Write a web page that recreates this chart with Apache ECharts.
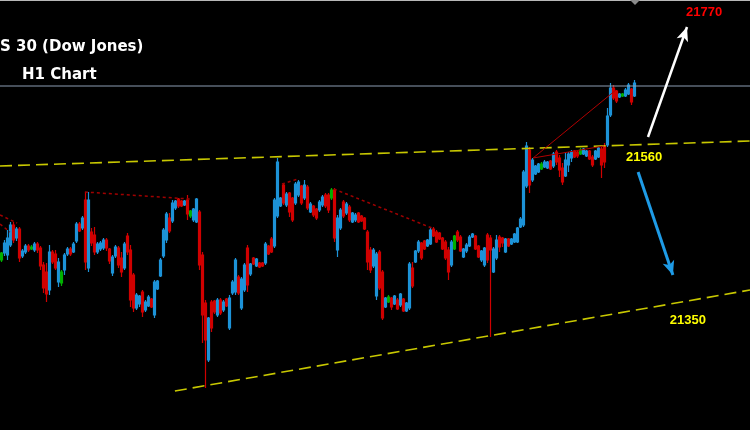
<!DOCTYPE html>
<html>
<head>
<meta charset="utf-8">
<script src="https://cdn.jsdelivr.net/npm/echarts@6/dist/echarts.min.js"></script>
<style>html,body{margin:0;padding:0;background:#000}#c{width:750px;height:430px}</style>
</head>
<body>
<div id="c"></div>
<script>
// H1 bars: [open, close, low, high]
const candles = [
[21395,21405.5,21392,21407],[21405.5,21420.5,21401,21425],[21402.5,21428,21395,21440],[21417.5,21447.5,21414.5,21452],
[21447.5,21425,21420.5,21452],[21428,21441.5,21423.5,21444.5],[21441.5,21398,21392,21444.5],[21401,21408.5,21398,21411.5],
[21407,21416,21404,21419],[21416,21410,21407,21419],[21411.5,21414.5,21410,21417.5],[21410,21419,21407,21422],
[21419,21410,21405.5,21422],[21413,21386,21380,21416],[21387.5,21353,21345.5,21392],[21377,21344,21332,21390.5],
[21350,21407,21342.5,21417.5],[21407,21392,21389,21410],[21404,21383,21380,21410],[21362,21392,21354.5,21398],
[21360.5,21377,21356,21380],[21380,21402.5,21372.5,21405.5],[21404,21411.5,21401,21414.5],[21411.5,21404,21401,21414.5],
[21407,21419,21405.5,21422],[21423.5,21449,21420.5,21452],[21449,21438.5,21437,21452],[21443,21458,21440,21461],
[21485,21392,21380,21497],[21383,21485,21377,21497],[21437,21420.5,21416,21443],[21432.5,21407,21402.5,21444.5],
[21407,21419,21404,21422],[21411.5,21420.5,21408.5,21423.5],[21413,21425,21410,21428],[21425,21413,21408.5,21428],
[21411.5,21393.5,21389,21413],[21375.5,21399.5,21371,21402.5],[21401,21414.5,21398,21417.5],[21413,21387.5,21383,21416],
[21398,21377,21369.5,21407],[21383,21419,21380,21422],[21431,21407,21402.5,21435.5],[21410,21335,21324.5,21417.5],
[21372.5,21323,21317,21375.5],[21323,21342.5,21320,21345.5],[21329,21341,21324.5,21342.5],[21347,21317,21309.5,21350],
[21320,21332,21317,21335],[21326,21339.5,21324.5,21342.5],[21336.5,21324.5,21323,21338],[21312.5,21362,21308,21365],
[21351.5,21363.5,21350,21365],[21371,21395,21369.5,21398],[21401,21440,21398,21443],[21425,21464,21420.5,21467],
[21458,21438.5,21435.5,21465.5],[21453.5,21480.5,21450.5,21485],[21473,21483.5,21470,21485],[21486.5,21476,21473,21488],
[21483.5,21476,21474.5,21485],[21477.5,21483.5,21476,21485],[21485,21464,21455,21492.5],[21461,21468.5,21458,21470],
[21455,21471.5,21452,21473],[21452,21486.5,21450.5,21488],[21467,21387.5,21380,21470],[21402.5,21312.5,21270.5,21407],
[21330.5,21275,21203,21335],[21245,21308,21242,21309.5],[21332,21293,21287,21335],[21333.5,21317,21314,21335],
[21312.5,21335,21309.5,21338],[21335,21315.5,21312.5,21338],[21320,21332,21317,21335],[21336.5,21326,21324.5,21338],
[21293,21338,21290,21342.5],[21345.5,21362,21342.5,21365],[21347,21395,21342.5,21398],[21369.5,21345.5,21342.5,21372.5],
[21323,21366.5,21320,21369.5],[21350,21387.5,21347,21390.5],[21413,21357.5,21347,21417.5],[21374,21389,21371,21390.5],
[21398,21389,21387.5,21399.5],[21386,21396.5,21384.5,21398],[21390.5,21384.5,21383,21392],[21390.5,21386,21384.5,21392],
[21390.5,21419,21387.5,21422],[21416,21404,21402.5,21417.5],[21426.5,21407,21405.5,21429.5],[21416,21485,21413,21488],
[21461,21542,21458,21548],[21476,21488,21474.5,21489.5],[21507.5,21480.5,21477.5,21510.5],[21477.5,21494,21474.5,21497],
[21495.5,21467,21459.5,21497],[21488,21455,21452,21489.5],[21480.5,21509,21477.5,21512],[21492.5,21512,21489.5,21515],
[21506,21480.5,21477.5,21507.5],[21488,21507.5,21485,21515],[21504.5,21473,21470,21507.5],[21467,21479,21465.5,21482],
[21476,21462.5,21459.5,21477.5],[21471.5,21458,21455,21473],[21470,21482,21467,21485],[21477.5,21489.5,21474.5,21492.5],
[21492.5,21476,21473,21495.5],[21492.5,21470,21465.5,21495.5],[21488,21500,21485,21503],[21500,21428,21422,21503],
[21410,21458,21399.5,21462.5],[21443,21470,21440,21473],[21482,21461,21458,21485],[21465.5,21479,21462.5,21482],
[21474.5,21455,21452,21477.5],[21452,21465.5,21450.5,21467],[21455,21462.5,21452,21465.5],[21465.5,21452,21450.5,21467],
[21461,21453.5,21452,21462.5],[21458,21441.5,21440,21459.5],[21437,21392,21380,21440],[21410,21380,21375.5,21414.5],
[21386,21410,21383,21413],[21341,21404,21335,21407],[21407,21353,21350,21410],[21377,21308,21305,21380],
[21324.5,21338,21323,21339.5],[21332,21339.5,21330.5,21342.5],[21338,21324.5,21320,21339.5],[21329,21341,21327.5,21342.5],
[21335,21321.5,21320,21338],[21327.5,21344,21324.5,21345.5],[21336.5,21318.5,21317,21338],[21318.5,21330.5,21317,21332],
[21323,21389,21320,21392],[21383,21356,21353,21392],[21392,21408.5,21390.5,21410],[21408.5,21422,21405.5,21425],
[21420.5,21398,21395,21422],[21423.5,21411.5,21410,21425],[21416,21425,21414.5,21426.5],[21419,21440,21417.5,21444.5],
[21441.5,21431,21429.5,21444.5],[21437,21422,21420.5,21440],[21435.5,21426.5,21425,21437],[21428,21411.5,21410,21429.5],
[21422,21398,21395,21425],[21410,21377,21365,21414.5],[21387.5,21422,21384.5,21425],[21411.5,21431,21410,21432.5],
[21437,21425,21422,21440],[21429.5,21408.5,21407,21432.5],[21399.5,21411.5,21398,21413],[21408.5,21417.5,21405.5,21420.5],
[21416,21429.5,21414.5,21432.5],[21429.5,21434,21428,21435.5],[21431,21411.5,21410,21432.5],[21416,21399.5,21398,21417.5],
[21395,21408.5,21392,21410],[21387.5,21413,21384.5,21414.5],[21432.5,21395,21390.5,21435.5],[21428,21410,21279.5,21432.5],
[21377,21411.5,21375.5,21414.5],[21398,21425,21395,21432.5],[21429.5,21414.5,21407,21432.5],[21428,21420.5,21414.5,21429.5],
[21407,21426.5,21405.5,21428],[21426.5,21416,21414.5,21428],[21419,21426.5,21417.5,21428],[21422,21434,21420.5,21435.5],
[21422,21443,21420.5,21444.5],[21444.5,21456.5,21443,21459.5],[21447.5,21527,21444.5,21530],[21506,21566,21503,21572],
[21560,21507.5,21495.5,21564.5],[21515,21545,21512,21548],[21524,21536,21522.5,21537.5],[21527,21539,21525.5,21540.5],
[21531.5,21539,21530,21542],[21534.5,21542,21533,21545],[21533,21542,21531.5,21543.5],[21543.5,21531.5,21530,21545],
[21536,21554,21533,21557],[21557,21542,21537.5,21560],[21548,21530,21519.5,21552.5],[21533,21512,21507.5,21540.5],
[21521,21545,21519.5,21557],[21537.5,21554,21527,21557],[21548,21557,21542,21560],[21558.5,21549.5,21548,21560],
[21557,21551,21548,21560],[21554,21560,21552.5,21563],[21554,21561.5,21552.5,21563],[21551,21558.5,21549.5,21560],
[21558.5,21546.5,21545,21560],[21549.5,21537.5,21534.5,21552.5],[21546.5,21558.5,21545,21560],[21549.5,21563,21548,21564.5],
[21561.5,21537.5,21518,21564.5],[21566,21542,21533,21570.5],[21567.5,21611,21564.5,21623],[21612.5,21653,21609.5,21660.5],
[21653,21638,21635,21657.5],[21648.5,21633.5,21630.5,21650],[21639.5,21644,21638,21645.5],[21641,21644,21639.5,21645.5],
[21641,21650,21639.5,21653],[21644,21657.5,21642.5,21660.5],[21651.5,21632,21627.5,21653],[21641,21660.5,21639.5,21665]
];
// bars drawn in green on the reference
const greenBars = [0, 10, 20, 63, 110, 129, 151, 180, 193, 207];
const slotCount = 250;

// annotations: [bar index, price]
const resistanceLine = [[-0.5, 21536], [249.5, 21573.5]];
const supportLine = [[57.8, 21198.5], [249.5, 21350]];
const currentPriceLine = [[-0.5, 21656], [249.5, 21656]];
const dottedTrends = [
  [[27.8, 21497], [62.8, 21486.5]],
  [[93.5, 21509], [98.8, 21516.5]],
  [[110.8, 21501.5], [143.5, 21443]],
  [[-0.5, 21462.5], [5.2, 21450.5]],
  [[-0.5, 21449], [2.8, 21437]]
];
const solidTrends = [
  [[177.2, 21548], [204.8, 21650]],
  [[177.2, 21548], [200.8, 21566]]
];
const arrowUp = [[215.5, 21579.5], [228.5, 21744.5]];
const arrowDown = [[212.2, 21527], [223.8, 21372.5]];
const levelLabels = [
  { text: '21770', pos: [234.2, 21767], color: '#ff0000' },
  { text: '21560', pos: [214.2, 21549.5], color: '#ffff00' },
  { text: '21350', pos: [228.8, 21305], color: '#ffff00' }
];
const titleLines = ['S 30 (Dow Jones)', 'H1 Chart'];

const categories = [];
for (let i = 0; i < slotCount; i++) categories.push('bar' + i);

const candleData = candles.map((c, i) => greenBars.indexOf(i) >= 0
  ? { value: c, itemStyle: { color: '#00b000', color0: '#00b000', borderColor: '#00b000', borderColor0: '#00b000' } }
  : c);

function lineSeries(data, style) {
  return { type: 'line', xAxisIndex: 1, data: data, showSymbol: false, symbol: 'none', silent: true,
    lineStyle: style, z: 3, animation: false };
}

const series = [
  { type: 'candlestick', data: candleData, barWidth: 2, z: 2,
    itemStyle: { color: '#1d93d8', color0: '#d00000', borderColor: '#1d93d8', borderColor0: '#d00000', borderWidth: 1.2 } },
  lineSeries(currentPriceLine, { color: '#8c9db3', width: 1 }),
  lineSeries(resistanceLine, { color: '#c8c800', width: 1.6, type: [12, 6] }),
  lineSeries(supportLine, { color: '#c8c800', width: 1.6, type: [12, 6] })
];
dottedTrends.forEach(d => series.push(lineSeries(d, { color: '#a00000', width: 1.5, type: [3, 3] })));
solidTrends.forEach(d => series.push(lineSeries(d, { color: '#b00000', width: 1 })));
series.push({
  type: 'line', xAxisIndex: 1, data: [arrowUp[0]], showSymbol: false, symbol: 'none', silent: true, z: 4,
  markLine: {
    silent: true, animation: false, symbol: ['none', 'arrow'], symbolSize: [9, 14],
    label: { show: false },
    data: [
      [{ coord: arrowUp[0], lineStyle: { color: '#ffffff', width: 2.5, type: 'solid' } }, { coord: arrowUp[1] }],
      [{ coord: arrowDown[0], lineStyle: { color: '#1e9be6', width: 3, type: 'solid' } }, { coord: arrowDown[1] }]
    ]
  }
});
series.push({
  type: 'scatter', xAxisIndex: 1, symbol: 'circle', symbolSize: 1, silent: true, z: 5,
  itemStyle: { color: 'rgba(0,0,0,0)', opacity: 1 },
  data: levelLabels.map(l => ({ value: l.pos, name: l.text,
    label: { show: true, position: 'inside', formatter: '{b}', color: l.color, opacity: 1,
      textBorderWidth: 0, textShadowBlur: 0,
      fontFamily: 'Liberation Sans', fontWeight: 'bold', fontSize: 13 } }))
});

const chart = echarts.init(document.getElementById('c'), null, { renderer: 'canvas' });
chart.setOption({
  backgroundColor: '#000000',
  animation: false,
  title: [
    { text: titleLines[0], left: 0, top: 40, padding: 0,
      textStyle: { color: '#ffffff', fontFamily: 'DejaVu Sans', fontWeight: 'bold', fontSize: 15 } },
    { text: titleLines[1], left: 22, top: 68, padding: 0,
      textStyle: { color: '#ffffff', fontFamily: 'DejaVu Sans', fontWeight: 'bold', fontSize: 15 } }
  ],
  grid: { left: 0, right: 0, top: 0, bottom: 0 },
  xAxis: [
    { type: 'category', data: categories, show: false, boundaryGap: true },
    { type: 'value', min: -0.5, max: slotCount - 0.5, show: false }
  ],
  yAxis: { type: 'value', min: 21140, max: 21785, show: false },
  graphic: [
    { type: 'line', shape: { x1: 0, y1: 0.5, x2: 750, y2: 0.5 }, style: { stroke: '#b8b8b8', lineWidth: 1 } },
    { type: 'polygon', shape: { points: [[630, 0], [640, 0], [635, 5]] }, style: { fill: '#8a8a8a' } }
  ],
  series: series
});
</script>
</body>
</html>
